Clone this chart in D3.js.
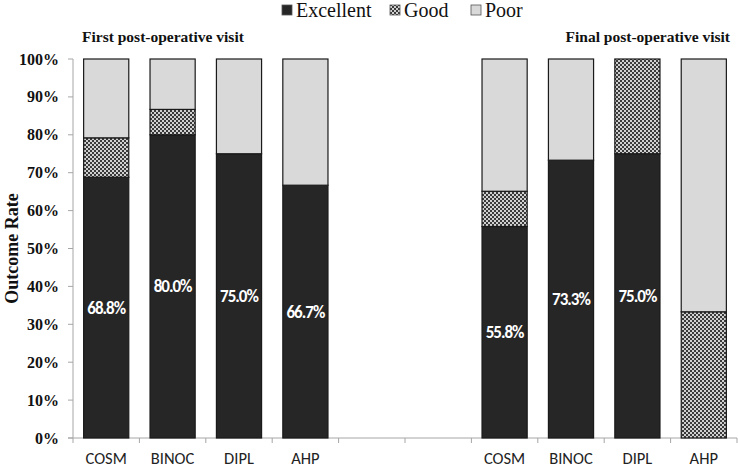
<!DOCTYPE html>
<html><head><meta charset="utf-8">
<script src="https://cdn.jsdelivr.net/npm/d3@7"></script>
<style>body{margin:0;background:#fff}svg{display:block}</style>
</head><body><svg id="c" width="738" height="468"></svg>
<script>
// slots: 4 first-visit, 2 empty gap slots, 4 final-visit
const slots = ["f-COSM","f-BINOC","f-DIPL","f-AHP","gap1","gap2","l-COSM","l-BINOC","l-DIPL","l-AHP"];
const slotLabels = ["COSM","BINOC","DIPL","AHP","","","COSM","BINOC","DIPL","AHP"];
const barSlots = ["f-COSM","f-BINOC","f-DIPL","f-AHP","l-COSM","l-BINOC","l-DIPL","l-AHP"];
const excellent = [68.8, 80.0, 75.0, 66.7, 55.8, 73.3, 75.0, 0];
const good      = [10.4, 6.7, 0, 0, 9.3, 0, 25.0, 33.3];
const poor      = [20.8, 13.3, 25.0, 33.3, 34.9, 26.7, 0, 66.7];
const seriesNames = ["Excellent","Good","Poor"];
const yTicks = [0,10,20,30,40,50,60,70,80,90,100];
const titles = ["First post-operative visit","Final post-operative visit"];

const svg = d3.select("#c");
const defs = svg.append("defs");
const pat = defs.append("pattern").attr("id","hatch").attr("patternUnits","userSpaceOnUse")
  .attr("width",4).attr("height",4);
pat.append("rect").attr("width",4).attr("height",4).attr("fill","#d0d0d0");
pat.append("rect").attr("x",0).attr("y",0).attr("width",2).attr("height",2).attr("fill","#3a3a3a");
pat.append("rect").attr("x",2).attr("y",2).attr("width",2).attr("height",2).attr("fill","#3a3a3a");

const fills = {Excellent:"#262626", Good:"url(#hatch)", Poor:"#d9d9d9"};

const x = d3.scaleBand().domain(slots).range([73,737]).paddingInner(0.32).paddingOuter(0.16);
const xTickScale = d3.scaleLinear().domain([0,slots.length]).range([73,737]);
const y = d3.scaleLinear().domain([0,100]).range([438,59]);

const data = barSlots.map((s,i)=>({slot:s, Excellent:excellent[i], Good:good[i], Poor:poor[i]}));
const stacked = d3.stack().keys(seriesNames)(data);

const serif = "'Liberation Serif','Times New Roman',serif";
const sans = "Carlito,'Open Sans','Liberation Sans',sans-serif";

// y axis
svg.append("line").attr("x1",73).attr("x2",73).attr("y1",y(100)).attr("y2",y(0)).attr("stroke","#a6a6a6");
svg.selectAll(".yt").data(yTicks).enter().append("line")
  .attr("x1",68).attr("x2",73).attr("y1",d=>y(d)).attr("y2",d=>y(d)).attr("stroke","#a6a6a6");
svg.selectAll(".yl").data(yTicks).enter().append("text")
  .attr("x",59).attr("y",d=>y(d)+5.5).attr("text-anchor","end")
  .attr("font-family",serif).attr("font-weight","bold").attr("font-size",16).attr("fill","#111")
  .text(d=>d+"%");
svg.append("text").attr("transform","translate(18,"+y(50)+") rotate(-90)")
  .attr("text-anchor","middle").attr("font-family",serif).attr("font-weight","bold")
  .attr("font-size",18).attr("fill","#111").text("Outcome Rate");

// x axis
svg.append("line").attr("x1",68).attr("x2",737).attr("y1",438).attr("y2",438).attr("stroke","#a6a6a6");
svg.selectAll(".xt").data(d3.range(slots.length+1)).enter().append("line")
  .attr("x1",d=>xTickScale(d)).attr("x2",d=>xTickScale(d)).attr("y1",438).attr("y2",443).attr("stroke","#a6a6a6");
svg.selectAll(".xl").data(slots).enter().append("text")
  .attr("x",d=>x(d)+x.bandwidth()/2).attr("y",464).attr("text-anchor","middle")
  .attr("font-family",sans).attr("font-size",16.5).attr("fill","#222")
  .text((d,i)=>slotLabels[i]);

// bars
const g = svg.append("g");
stacked.forEach(layer=>{
  g.selectAll(null).data(layer.filter(d=>d[1]-d[0]>0)).enter().append("rect")
    .attr("x",d=>x(d.data.slot)).attr("width",x.bandwidth())
    .attr("y",d=>y(d[1])).attr("height",d=>y(d[0])-y(d[1]))
    .attr("fill",fills[layer.key]).attr("stroke","#1a1a1a").attr("stroke-width",1.2);
});

// labels on excellent
svg.selectAll(".bl").data(data.filter(d=>d.Excellent>0)).enter().append("text")
  .attr("x",d=>x(d.slot)+x.bandwidth()/2).attr("y",d=>y(d.Excellent/2)+6)
  .attr("text-anchor","middle").attr("font-family",sans).attr("font-weight","bold")
  .attr("font-size",17).attr("letter-spacing","-1").attr("fill","#fff")
  .text(d=>d.Excellent.toFixed(1)+"%");

// titles
svg.append("text").attr("x",82).attr("y",42).attr("font-family",serif).attr("font-weight","bold")
  .attr("font-size",15.5).attr("fill","#111").text(titles[0]);
svg.append("text").attr("x",730).attr("y",42).attr("text-anchor","end").attr("font-family",serif).attr("font-weight","bold")
  .attr("font-size",15.5).attr("fill","#111").text(titles[1]);

// legend
const legX = [282, 390, 471];
const lg = svg.selectAll(".lg").data(seriesNames).enter().append("g")
  .attr("transform",(d,i)=>"translate("+legX[i]+",0)");
lg.append("rect").attr("x",0).attr("y",5).attr("width",10).attr("height",10)
  .attr("fill",d=>fills[d]).attr("stroke","#555").attr("stroke-width",0.8);
lg.append("text").attr("x",14).attr("y",17).attr("font-family",serif).attr("font-size",20)
  .attr("fill","#111").text(d=>d);
</script></body></html>
